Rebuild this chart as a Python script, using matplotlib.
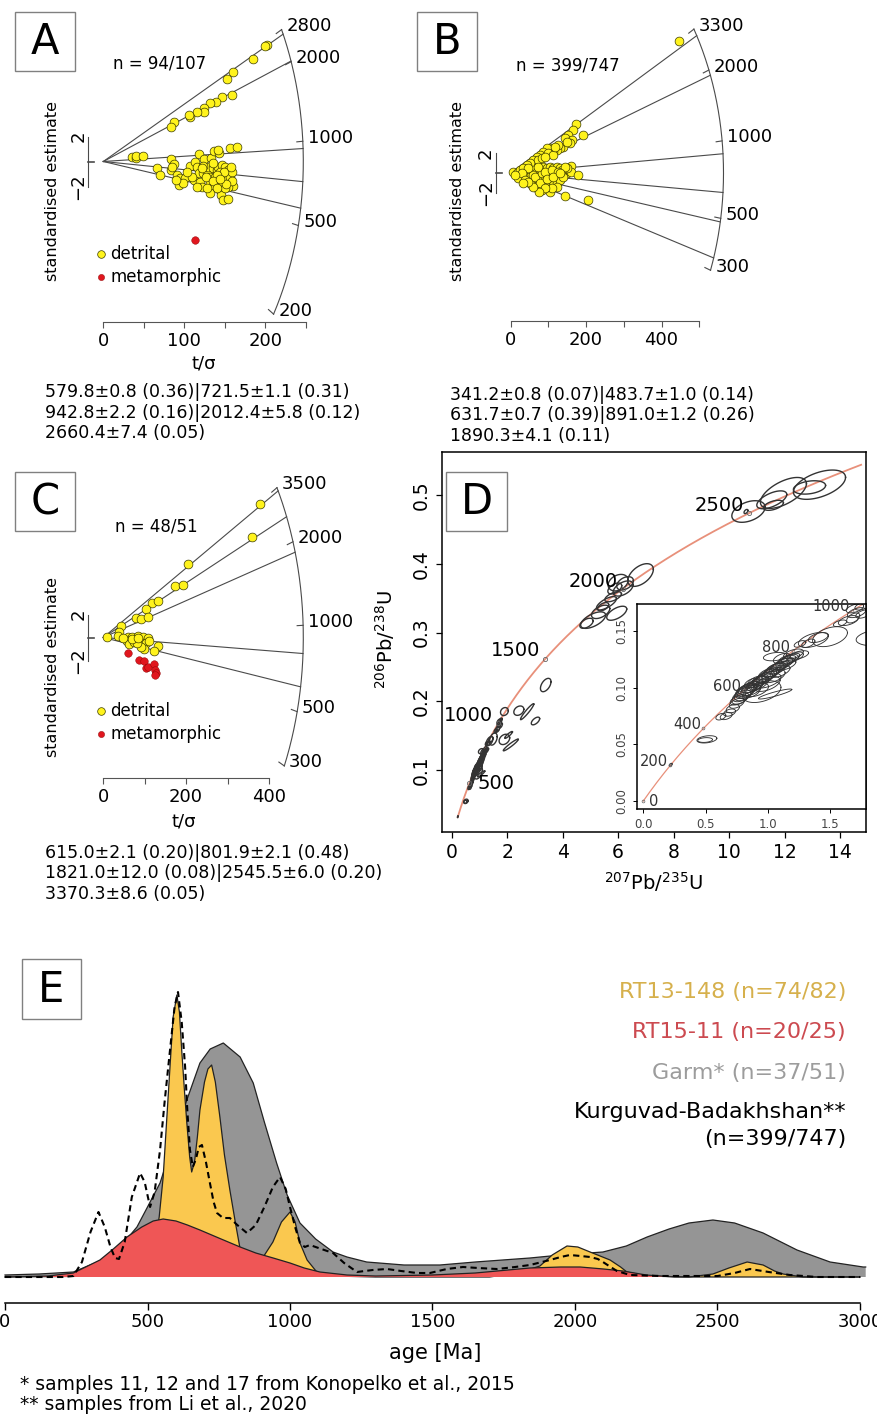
import numpy as np
import matplotlib.pyplot as plt
from matplotlib.patches import Rectangle

plt.rcParams['font.family'] = ['DejaVu Sans']
plt.rcParams['mathtext.fontset'] = 'dejavusans'

W, H = 877, 1419

# ---------------- radial plots: (t/sigma, standardised estimate) ----------------
A_DETRITAL = [(201.7, 9.32), (199.6, 9.24), (184.4, 8.20), (160.5, 7.13), (152.3, 6.57),
              (158.5, 5.29), (146.5, 5.19), (138.7, 4.76), (131.7, 4.65), (124.7, 4.25),
              (124.3, 3.93), (115.3, 3.99), (107.0, 3.59), (106.2, 3.69), (87.3, 3.16),
              (83.2, 2.76), (35.0, 0.33), (40.0, 0.25), (40.4, 0.44), (48.6, 0.44),
              (83.6, 0.17), (87.7, -0.20), (118.1, 0.60), (124.3, 0.17), (133.0, 0.28),
              (137.1, 0.84), (142.8, 0.71), (142.0, 0.92), (156.4, 1.08), (164.7, 1.16),
              (65.9, -0.49), (70.0, -1.11), (83.6, -0.68), (90.6, -1.08), (94.7, -1.35),
              (93.5, -1.88), (100.9, -1.32), (107.0, -0.33), (113.2, -0.01), (115.3, -0.41),
              (112.4, -1.48), (119.4, -1.61), (118.6, -0.95), (123.5, -0.95), (127.6, -0.81),
              (129.7, -0.41), (131.7, -1.21), (135.8, -0.55), (139.9, -0.68), (142.0, -0.41),
              (146.1, -0.28), (150.2, -0.41), (154.4, -0.68), (137.9, -1.21), (131.7, -1.75),
              (135.8, -2.01), (142.0, -1.61), (146.1, -1.88), (148.2, -1.21), (152.3, -1.48),
              (156.4, -1.21), (158.5, -0.81), (160.5, -1.95), (154.4, -2.01), (144.1, -2.28),
              (131.7, -2.55), (144.9, -2.68), (147.4, -3.08), (154.4, -3.00), (122.3, -2.01),
              (144.1, -0.81), (135.8, -0.15), (149.0, -0.81), (123.5, -0.36), (139.9, -1.08),
              (150.2, -2.15), (158.5, -1.56), (121.4, -0.55), (126.8, -1.21), (135.0, -1.53),
              (140.8, -2.15), (151.5, -1.80), (157.2, -0.41), (144.1, -1.43), (128.4, -2.15),
              (115.3, -2.01), (109.1, -1.21), (102.9, -0.81), (98.0, -1.69), (89.8, -1.48),
              (84.4, -0.41)]
A_META = [(113.2, -6.28)]
A_PEAKS = [579.8, 721.5, 942.8, 2012.4, 2660.4]
A_AGES = [200, 500, 1000, 2000, 2800]
A_N = 'n = 94/107'
A_LINES = ['579.8±0.8 (0.36)|721.5±1.1 (0.31)', '942.8±2.2 (0.16)|2012.4±5.8 (0.12)',
           '2660.4±7.4 (0.05)']

B_DETRITAL = [(447.3, 13.23),
              (173.5, 4.90), (166.5, 4.30), (191.2, 3.80), (153.2, 3.80), (144.4, 3.47),
              (162.0, 3.30), (157.6, 3.03), (140.0, 2.63), (131.1, 2.47), (122.3, 2.30),
              (113.5, 2.13), (104.6, 2.47), (95.8, 2.47), (87.0, 2.13), (78.1, 1.80),
              (69.3, 1.63), (100.2, 1.97), (113.5, 1.80), (60.5, 1.30), (73.7, 1.30),
              (51.7, 0.97), (42.8, 0.80), (82.6, 1.47), (91.4, 1.63), (126.7, 2.80),
              (148.8, 3.13), (117.9, 2.63),
              (7.5, 0.13), (16.3, -0.03), (25.2, 0.30), (34.0, 0.47), (42.8, 0.13),
              (51.7, -0.03), (60.5, 0.30), (69.3, 0.13), (78.1, 0.47), (87.0, 0.63),
              (95.8, 0.47), (104.6, 0.63), (113.5, 0.47), (122.3, 0.63), (131.1, 0.47),
              (140.0, 0.13), (148.8, -0.03), (135.5, -0.20), (126.7, -0.37), (117.9, -0.53),
              (109.1, -0.70), (100.2, -0.87), (91.4, -1.03), (82.6, -1.20), (73.7, -1.37),
              (69.3, -1.53), (82.6, -1.70), (104.6, -1.87), (95.8, -1.37), (113.5, -1.20),
              (122.3, -1.03), (131.1, -0.70), (140.0, -0.37), (160.3, 0.70), (159.4, 0.13),
              (177.9, -0.20), (144.4, -2.30), (206.2, -2.70), (60.5, -0.70), (51.7, -0.53),
              (42.8, -0.37), (34.0, -0.20), (25.2, -0.37), (20.8, -0.53), (64.9, -1.03),
              (56.1, -1.20), (78.1, -0.70), (87.0, -0.37), (104.6, -0.03), (113.5, -0.03),
              (95.8, -0.20), (69.3, -0.37), (60.5, -0.20), (47.2, 0.47), (29.6, 0.03),
              (11.9, -0.20), (38.4, -0.70), (51.7, -1.03), (64.9, -0.37), (82.6, -0.03),
              (100.2, -0.37), (122.3, -0.03), (135.5, 0.30), (148.8, 0.47), (73.7, 0.63),
              (91.4, 0.13), (109.1, 0.30), (126.7, 0.13), (144.4, 0.63), (78.1, -1.03),
              (95.8, -0.63), (113.5, -0.37), (131.1, -0.03), (122.3, -1.37), (109.1, -1.53),
              (91.4, -1.53), (76.4, -1.87), (60.5, -1.37), (47.2, -0.87), (34.0, -1.03)]
B_META = []
B_PEAKS = [341.2, 483.7, 631.7, 891.0, 1890.3, 3020.0]
B_AGES = [300, 500, 1000, 2000, 3300]
B_N = 'n = 399/747'
B_LINES = ['341.2±0.8 (0.07)|483.7±1.0 (0.14)', '631.7±0.7 (0.39)|891.0±1.2 (0.26)',
           '1890.3±4.1 (0.11)']

C_DETRITAL = [(378.5, 11.58), (358.4, 8.71), (203.8, 6.38), (173.2, 4.48), (193.3, 4.57),
              (116.8, 3.03), (131.3, 3.17), (102.3, 2.48), (78.2, 1.73), (90.3, 1.58),
              (108.8, 1.81), (42.8, 1.00), (37.9, 0.51), (34.7, 0.13), (9.7, 0.07),
              (58.9, 0.07), (70.1, 0.01), (83.0, 0.13), (96.7, 0.07), (108.8, -0.07),
              (56.4, -0.28), (62.1, -0.57), (75.0, -0.36), (88.6, -0.36), (102.3, -0.51),
              (110.4, -0.28), (133.0, -0.71), (123.3, -1.14), (99.1, -1.03), (91.0, -0.80),
              (80.5, -0.51), (68.5, -0.16), (84.6, -0.07), (48.4, -0.07)]
C_META = [(58.9, -1.32), (87.0, -1.96), (99.1, -2.01), (102.3, -2.68), (107.1, -2.54),
          (123.3, -2.33), (124.9, -2.83), (126.5, -3.12), (125.7, -3.26)]
C_PEAKS = [615.0, 801.9, 1821.0, 2545.5, 3370.3]
C_AGES = [300, 500, 1000, 2000, 3500]
C_N = 'n = 48/51'
C_LINES = ['615.0±2.1 (0.20)|801.9±2.1 (0.48)', '1821.0±12.0 (0.08)|2545.5±6.0 (0.20)',
           '3370.3±8.6 (0.05)']

# ---------------- concordia: 207Pb/235U, 206Pb/238U, half-extents, rho ----------------
ELLIPSES = [(0.511, 0.0544, 0.080, 0.0032, 0.3), (0.497, 0.0538, 0.059, 0.0021, 0.2),
            (0.220, 0.0320, 0.012, 0.0013, 0.5), (0.623, 0.0744, 0.040, 0.0029, 0.4),
            (0.666, 0.0750, 0.048, 0.0032, 0.4), (0.693, 0.0780, 0.048, 0.0032, 0.4),
            (0.719, 0.0815, 0.053, 0.0037, 0.4), (0.751, 0.0862, 0.060, 0.0044, 0.5),
            (0.778, 0.0906, 0.067, 0.0051, 0.5), (0.805, 0.0944, 0.074, 0.0059, 0.5),
            (0.832, 0.0980, 0.080, 0.0059, 0.5), (0.858, 0.1003, 0.067, 0.0051, 0.5),
            (0.845, 0.0965, 0.094, 0.0059, 0.4), (0.898, 0.1024, 0.067, 0.0051, 0.5),
            (0.952, 0.0965, 0.154, 0.0096, 0.4), (1.059, 0.0944, 0.134, 0.0044, 0.9),
            (0.960, 0.1074, 0.080, 0.0059, 0.6), (0.992, 0.1103, 0.080, 0.0059, 0.6),
            (1.024, 0.1127, 0.074, 0.0051, 0.6), (0.992, 0.1062, 0.114, 0.0066, 0.5),
            (1.051, 0.1156, 0.080, 0.0059, 0.6), (1.086, 0.1186, 0.074, 0.0044, 0.6),
            (1.120, 0.1209, 0.080, 0.0051, 0.6), (1.152, 0.1239, 0.074, 0.0044, 0.6),
            (1.184, 0.1259, 0.074, 0.0044, 0.6), (1.112, 0.1259, 0.067, 0.0044, 0.5),
            (1.059, 0.1274, 0.094, 0.0037, 0.3), (1.206, 0.1297, 0.080, 0.0044, 0.5),
            (0.912, 0.1053, 0.074, 0.0051, 0.5), (0.872, 0.1039, 0.060, 0.0044, 0.5),
            (0.765, 0.0891, 0.067, 0.0044, 0.5), (0.791, 0.0927, 0.074, 0.0051, 0.5),
            (0.818, 0.0965, 0.080, 0.0059, 0.5), (0.837, 0.0991, 0.074, 0.0051, 0.6),
            (0.864, 0.0980, 0.080, 0.0051, 0.5), (0.890, 0.1009, 0.074, 0.0051, 0.6),
            (0.925, 0.1039, 0.080, 0.0059, 0.5), (0.939, 0.1068, 0.067, 0.0044, 0.6),
            (0.979, 0.1092, 0.074, 0.0051, 0.6), (1.005, 0.1121, 0.080, 0.0051, 0.5),
            (1.032, 0.1142, 0.074, 0.0051, 0.6), (1.067, 0.1168, 0.080, 0.0051, 0.5),
            (1.099, 0.1192, 0.074, 0.0044, 0.6), (1.139, 0.1221, 0.074, 0.0044, 0.6),
            (1.166, 0.1250, 0.080, 0.0044, 0.5), (1.045, 0.1103, 0.094, 0.0059, 0.5),
            (0.992, 0.1033, 0.107, 0.0066, 0.5), (1.099, 0.1142, 0.080, 0.0051, 0.6),
            (1.152, 0.1200, 0.074, 0.0044, 0.6), (1.219, 0.1274, 0.067, 0.0041, 0.5),
            (1.254, 0.1289, 0.074, 0.0037, 0.5), (0.912, 0.0980, 0.094, 0.0059, 0.5),
            (1.366, 0.1421, 0.120, 0.0066, 0.5), (1.406, 0.1442, 0.080, 0.0044, 0.5),
            (1.500, 0.1450, 0.140, 0.0088, 0.4), (1.326, 0.1392, 0.053, 0.0037, 0.5),
            (1.647, 0.1592, 0.080, 0.0044, 0.5), (1.714, 0.1662, 0.074, 0.0044, 0.5),
            (1.767, 0.1650, 0.060, 0.0037, 0.5), (1.687, 0.1615, 0.053, 0.0044, 0.5),
            (1.580, 0.1568, 0.053, 0.0029, 0.5), (1.259, 0.1386, 0.047, 0.0029, 0.5),
            (1.700, 0.1700, 0.070, 0.0040, 0.5), (1.760, 0.1720, 0.060, 0.0035, 0.5),
            (1.900, 0.1445, 0.190, 0.0075, 0.3), (2.050, 0.1510, 0.140, 0.0050, 0.9),
            (2.130, 0.1364, 0.270, 0.0085, 0.95), (3.390, 0.2236, 0.190, 0.0097, 0.5),
            (2.420, 0.1863, 0.180, 0.0068, 0.3), (2.720, 0.1848, 0.240, 0.0116, 0.95),
            (3.020, 0.1713, 0.150, 0.0056, 0.6), (1.900, 0.1850, 0.140, 0.0058, 0.2),
            (6.810, 0.3836, 0.460, 0.0165, 0.5), (6.000, 0.3725, 0.360, 0.0120, 0.3),
            (6.180, 0.3640, 0.360, 0.0110, 0.5), (6.250, 0.3715, 0.300, 0.0097, 0.4),
            (5.820, 0.3520, 0.300, 0.0073, 0.6), (5.580, 0.3425, 0.360, 0.0097, 0.7),
            (5.950, 0.3280, 0.360, 0.0102, 0.6), (5.370, 0.3300, 0.330, 0.0097, 0.5),
            (5.100, 0.3180, 0.450, 0.0120, 0.6), (4.860, 0.3134, 0.240, 0.0073, 0.5),
            (5.460, 0.3375, 0.200, 0.0060, 0.5), (5.880, 0.3640, 0.250, 0.0080, 0.5),
            (13.26, 0.5150, 0.940, 0.0213, 0.5), (12.90, 0.5110, 0.580, 0.0097, 0.3),
            (11.96, 0.5030, 0.830, 0.0225, 0.6), (11.54, 0.4930, 0.540, 0.0130, 0.6),
            (10.70, 0.4760, 0.600, 0.0157, 0.4), (11.60, 0.4850, 0.360, 0.0073, 0.5),
            (10.61, 0.4760, 0.070, 0.0030, 0.5)]
MAIN_MARKS = [500, 1000, 1500, 2000, 2500]
INSET_MARKS = [0, 200, 400, 600, 800, 1000]

# ---------------- KDEs (age in Ma, relative density) ----------------
GARM_AGE = [0, 120, 240, 350, 410, 463, 500, 544, 590, 638, 684, 720, 766, 825, 871, 910,
            953, 990, 1035, 1090, 1151, 1200, 1269, 1400, 1526, 1650, 1842, 1950, 2098, 2180,
            2253, 2330, 2400, 2484, 2560, 2660, 2779, 2895, 3011, 3020]
GARM_D = [2, 3, 5, 18, 32, 50, 70, 94, 135, 177, 214, 228, 234, 220, 194, 155, 114, 82, 54,
          38, 25, 20, 15, 12, 12, 15, 19, 22, 25, 31, 40, 48, 54, 57, 54, 44, 27, 15, 10, 10]
RT13_AGE = [0, 400, 480, 520, 541, 555, 568, 580, 590, 603, 612, 620, 630, 638, 648, 655, 665,
            675, 684, 700, 712, 725, 738, 754, 770, 789, 808, 825, 850, 880, 906, 940, 970,
            1000, 1018, 1035, 1060, 1094, 1150, 1300, 1700, 1800, 1877, 1920, 1972, 2010, 2053,
            2123, 2160, 2182, 2250, 2400, 2484, 2540, 2604, 2660, 2700, 2730, 2800, 3000]
RT13_D = [0, 1, 8, 25, 60, 100, 160, 215, 260, 282, 265, 227, 185, 154, 120, 105, 115, 140,
          167, 195, 208, 212, 195, 160, 122, 87, 55, 28, 15, 12, 20, 35, 55, 65, 55, 34, 17, 5,
          1, 0, 0, 4, 11, 22, 31, 30, 25, 17, 10, 5, 1, 0, 3, 9, 15, 12, 6, 3, 0, 0]
RT15_AGE = [0, 150, 240, 333, 380, 428, 480, 520, 555, 600, 640, 684, 750, 825, 880, 941, 1000,
            1050, 1105, 1200, 1300, 1500, 1650, 1842, 1950, 2018, 2100, 2168, 2250, 2350, 3000]
RT15_D = [0, 1, 4, 17, 28, 40, 50, 56, 58, 56, 52, 47, 39, 30, 24, 19, 14, 9, 5, 2, 1, 2, 4, 9,
          10, 10, 8, 6, 2, 0, 0]
KB_AGE = [0, 200, 240, 270, 300, 328, 350, 370, 386, 400, 420, 445, 474, 490, 509, 525, 544, 560,
          579, 595, 607, 620, 632, 640, 649, 659, 670, 680, 691, 705, 719, 732, 744, 765, 789,
          815, 849, 880, 910, 940, 965, 985, 1000, 1018, 1035, 1052, 1070, 1110, 1151, 1190,
          1235, 1290, 1340, 1390, 1445, 1491, 1550, 1607, 1660, 1726, 1790, 1842, 1912, 1950,
          1982, 2020, 2053, 2080, 2098, 2125, 2147, 2193, 2300, 2500, 2560, 2614, 2680, 2754,
          2850, 3000]
KB_D = [0, 0, 1, 15, 45, 65, 50, 30, 19, 18, 35, 80, 104, 95, 70, 85, 127, 175, 227, 270, 285,
        255, 210, 165, 127, 110, 118, 130, 132, 115, 94, 75, 64, 59, 59, 52, 44, 52, 70, 90, 100,
        88, 70, 50, 34, 30, 32, 28, 24, 14, 5, 7, 8, 6, 4, 4, 8, 10, 9, 8, 10, 12, 17, 20, 22, 21,
        20, 18, 15, 10, 6, 2, 1, 1, 4, 8, 5, 2, 0, 0]
E_LEGEND = [('RT13-148 (n=74/82)', '#D6B04C'), ('RT15-11 (n=20/25)', '#CC4A50'),
            ('Garm* (n=37/51)', '#9C9C9C'), ('Kurguvad-Badakhshan**', 'black'),
            ('(n=399/747)', 'black')]

fig = plt.figure(figsize=(W / 100, H / 100), dpi=100)
fig.patch.set_facecolor('white')


def px_box(x0, y0, x1, y1):
    return [x0 / W, 1 - y1 / H, (x1 - x0) / W, (y1 - y0) / H]


def ftext(px, py, s, **kw):
    return fig.text(px / W, 1 - py / H, s, **kw)


def label_box(x0, y0, x1, y1, letter):
    fig.patches.append(Rectangle((x0 / W, 1 - y1 / H), (x1 - x0) / W, (y1 - y0) / H,
                                 transform=fig.transFigure, fc='white', ec='#808080',
                                 lw=1.0, zorder=5))
    ftext((x0 + x1) / 2, (y0 + y1) / 2 + 1, letter, ha='center', va='center',
          fontsize=30, zorder=6)


LINE_C = '#4a4a4a'


def radial_panel(geo, det, meta, peaks, ages, n_text, xticks, xlabels):
    x0, y0, x1, y1 = geo['box']
    ox, oy = geo['origin']
    sx, sz = geo['sx'], geo['sz']
    k, t0, a, b = geo['k'], geo['t0'], geo['a'], geo['b']
    ax = fig.add_axes(px_box(x0, y0, x1, y1))
    ax.patch.set_alpha(0)
    ax.set_xlim((x0 - ox) / sx, (x1 - ox) / sx)
    ax.set_ylim((oy - y1) / sz, (oy - y0) / sz)

    def rim(t, r=1.0):
        m = k * np.log(np.asarray(t, float) / t0)
        xp = r / np.sqrt(1 / a ** 2 + m ** 2 / b ** 2)
        return xp / sx, m * xp / sz

    arc = np.geomspace(ages[0], ages[-1], 300)
    ax.plot(*rim(arc), color=LINE_C, lw=0.8)
    for t in peaks:
        ex, ez = rim(t)
        ax.plot([0, ex], [0, ez], color=LINE_C, lw=0.8)
    for t in ages:
        ex, ez = rim(t)
        ix, iz = rim(t, 1 - 6 / a)
        ax.plot([ix, ex], [iz, ez], color=LINE_C, lw=0.8)
        ax.annotate(str(t), (ex, ez), xytext=(3.5, 2.5), textcoords='offset points',
                    ha='left', va='center', fontsize=13)
    if det:
        ax.scatter(*zip(*det), s=40, c='#FFF31C', edgecolors='#3c3c00', linewidths=0.5,
                   zorder=3)
    if meta:
        ax.scatter(*zip(*meta), s=30, c='#E0161E', edgecolors='#8a0000', linewidths=0.3,
                   zorder=3)
    # +-2 bracket
    xb = -15 / sx
    ax.plot([xb, xb], [-2, 2], color=LINE_C, lw=0.8)
    ax.plot([xb, xb + 6 / sx], [0, 0], color=LINE_C, lw=1.2)
    for v, s in [(2, '2'), (-2, '\u22122')]:
        ax.annotate(s, (xb, v), xytext=(-7, 0), textcoords='offset points', rotation=90,
                    ha='center', va='center', fontsize=13)
    # t/sigma axis
    for s in ['left', 'right', 'top']:
        ax.spines[s].set_visible(False)
    ax.spines['bottom'].set_position(('data', (oy - geo['axis_y']) / sz))
    ax.spines['bottom'].set_bounds(0, xticks[-1])
    ax.spines['bottom'].set_color('#555555')
    ax.set_xticks(xticks, xlabels)
    ax.tick_params(axis='x', length=4.5, color='#555555', labelsize=13, pad=2.5)
    ax.set_yticks([])
    ftext(geo['n_pos'][0], geo['n_pos'][1], n_text, ha='center', va='center', fontsize=12)
    ftext(geo['ylab_x'], geo['ylab_y'], 'standardised estimate', rotation=90,
          ha='center', va='center', fontsize=11.5)
    return ax


GEO_A = dict(box=(0, 0, 400, 450), origin=(103.3, 161.5), sx=0.81, sz=12.5, k=0.62, t0=849,
             a=200, b=291, axis_y=322, n_pos=(160, 64), ylab_x=53, ylab_y=191)
GEO_B = dict(box=(400, 0, 877, 450), origin=(510.5, 173), sx=0.3775, sz=10.0, k=0.53, t0=751,
             a=213, b=283, axis_y=321, n_pos=(568, 65), ylab_x=457, ylab_y=191)
GEO_C = dict(box=(0, 450, 400, 910), origin=(103.3, 637.5), sx=0.414, sz=11.5, k=0.64, t0=909,
             a=200, b=302, axis_y=778, n_pos=(156, 526), ylab_x=53, ylab_y=667)

radial_panel(GEO_A, A_DETRITAL, A_META, A_PEAKS, A_AGES, A_N,
             [0, 50, 100, 150, 200, 250], ['0', '', '100', '', '200', ''])
radial_panel(GEO_B, B_DETRITAL, B_META, B_PEAKS, B_AGES, B_N,
             [0, 100, 200, 300, 400, 500], ['0', '', '200', '', '400', ''])
radial_panel(GEO_C, C_DETRITAL, C_META, C_PEAKS, C_AGES, C_N,
             [0, 100, 200, 300, 400], ['0', '', '200', '', '400'])

ftext(204, 363, 't/\u03c3', ha='center', va='center', fontsize=13)
ftext(184, 822, 't/\u03c3', ha='center', va='center', fontsize=13)

for (lx, ly), lines in [((45, 392), A_LINES), ((450, 395), B_LINES), ((45, 853), C_LINES)]:
    for i, s in enumerate(lines):
        ftext(lx, ly + 20.5 * i, s, ha='left', va='center', fontsize=12.5)

# legends of A and C
for ly in (254, 711):
    fig.lines.append(plt.Line2D([101 / W], [1 - ly / H], marker='o', ms=5.5, mfc='#FFF31C',
                                mec='#3c3c00', mew=0.5, transform=fig.transFigure))
    ftext(110, ly, 'detrital', ha='left', va='center', fontsize=12)
    fig.lines.append(plt.Line2D([101 / W], [1 - (ly + 23) / H], marker='o', ms=4.5,
                                mfc='#E0161E', mec='#8a0000', mew=0.3,
                                transform=fig.transFigure))
    ftext(110, ly + 23, 'metamorphic', ha='left', va='center', fontsize=12)

# ---------------- D: concordia ----------------
L235, L238 = 9.8485e-4, 1.55125e-4


def concordia(t):
    t = np.asarray(t, float)
    return np.exp(L235 * t) - 1, np.exp(L238 * t) - 1


def draw_ellipses(ax, lw):
    th = np.linspace(0, 2 * np.pi, 80)
    for cx, cy, xh, yh, rho in ELLIPSES:
        ex = cx + xh * np.cos(th)
        ey = cy + yh * (rho * np.cos(th) + np.sqrt(1 - rho ** 2) * np.sin(th))
        ax.plot(ex, ey, color='#333333', lw=lw)


def axes_px(x0, y0, x1, y1, xa, xb, ya, yb):
    # calibration points (data value, pixel position) on each axis
    ax = fig.add_axes(px_box(x0, y0, x1, y1))
    kx = (xb[1] - xa[1]) / (xb[0] - xa[0])
    ky = (yb[1] - ya[1]) / (yb[0] - ya[0])
    ax.set_xlim(xa[0] + (x0 - xa[1]) / kx, xa[0] + (x1 - xa[1]) / kx)
    ax.set_ylim(ya[0] + (y1 - ya[1]) / ky, ya[0] + (y0 - ya[1]) / ky)
    return ax


axd = axes_px(442, 452, 866, 832, (0, 451.7), (14, 840), (0.1, 770), (0.5, 495))
tc = np.linspace(200, 2800, 400)
axd.plot(*concordia(tc), color='#E8907A', lw=1.3, zorder=1)
draw_ellipses(axd, 1.0)
mx, my = concordia(MAIN_MARKS)
axd.plot(mx, my, 'o', ms=3, mfc='none', mec='#666666', mew=0.6)
for t, x, y in zip(MAIN_MARKS, mx, my):
    if t == 500:
        axd.annotate(str(t), (x, y), xytext=(6, 0), textcoords='offset points',
                     ha='left', va='center', fontsize=14)
    else:
        axd.annotate(str(t), (x, y), xytext=(-3.5, 5.5), textcoords='offset points',
                     ha='right', va='center', fontsize=14)
axd.set_xticks(range(0, 15, 2))
axd.set_yticks([0.1, 0.2, 0.3, 0.4, 0.5], ['0.1', '0.2', '0.3', '0.4', '0.5'])
axd.tick_params(length=4.5, labelsize=13.5, width=0.9)
for lbl in axd.get_yticklabels():
    lbl.set_rotation(90)
    lbl.set_va('center')
for s in axd.spines.values():
    s.set_linewidth(1.1)
ftext(385, 640, r'$^{206}$Pb/$^{238}$U', rotation=90, ha='center', va='center', fontsize=14)
ftext(653, 882, r'$^{207}$Pb/$^{235}$U', ha='center', va='center', fontsize=14)

axi = axes_px(637, 604, 866, 809, (0, 643.3), (1.5, 830), (0, 801), (0.15, 631))
axi.plot(*concordia(np.linspace(0, 1150, 200)), color='#E8907A', lw=0.9, zorder=1)
draw_ellipses(axi, 0.65)
ix_, iy_ = concordia(INSET_MARKS)
axi.plot(ix_, iy_, 'o', ms=2, mfc='none', mec='#666666', mew=0.5)
for t, x, y in zip(INSET_MARKS, ix_, iy_):
    if t == 0:
        axi.annotate('0', (x, y), xytext=(4, 0), textcoords='offset points',
                     ha='left', va='center', fontsize=10.5, color='#333333')
    else:
        axi.annotate(str(t), (x, y), xytext=(-1.5, 3), textcoords='offset points',
                     ha='right', va='center', fontsize=10.5, color='#333333')
axi.set_xticks([0, 0.5, 1.0, 1.5], ['0.0', '0.5', '1.0', '1.5'])
axi.set_yticks([0, 0.05, 0.10, 0.15], ['0.00', '0.05', '0.10', '0.15'])
axi.tick_params(length=3, labelsize=8.5, labelcolor='#444444', width=0.7)
for lbl in axi.get_yticklabels():
    lbl.set_rotation(90)
    lbl.set_va('center')
for s in axi.spines.values():
    s.set_linewidth(1.1)

# ---------------- E: KDEs ----------------
axe = axes_px(0, 940, 877, 1303, (0, 5), (3000, 860), (0, 1277), (100, 1177))
axe.patch.set_alpha(0)
for age, dens, fc, z in [(GARM_AGE, GARM_D, '#959595', 1), (RT13_AGE, RT13_D, '#FAC84F', 2),
                         (RT15_AGE, RT15_D, '#EF5656', 3)]:
    axe.fill_between(age, 0, dens, fc=fc, ec='none', zorder=z)
    axe.plot(age, dens, color='#222222', lw=0.9, zorder=z)
axe.plot(KB_AGE, KB_D, color='black', lw=1.5, ls=(0, (3, 2)), zorder=4)
for s in ['left', 'right', 'top']:
    axe.spines[s].set_visible(False)
axe.spines['bottom'].set_bounds(0, 3000)
axe.spines['bottom'].set_linewidth(1.1)
axe.set_xticks(range(0, 3001, 500))
axe.tick_params(axis='x', length=5, width=1, labelsize=13, pad=2)
axe.set_yticks([])

for (s, c), ly in zip(E_LEGEND, [992, 1032, 1073, 1112, 1139]):
    ftext(846, ly, s, ha='right', va='center', fontsize=16, color=c)
ftext(435, 1353, 'age [Ma]', ha='center', va='center', fontsize=15)
ftext(20, 1384, '* samples 11, 12 and 17 from Konopelko et al., 2015', ha='left',
      va='center', fontsize=13.5)
ftext(20, 1404, '** samples from Li et al., 2020', ha='left', va='center', fontsize=13.5)

label_box(15, 12, 75, 71, 'A')
label_box(417, 12, 477, 71, 'B')
label_box(15, 472, 75, 531, 'C')
label_box(446, 472, 507, 531, 'D')
label_box(22, 959, 81, 1019, 'E')

fig.savefig('out.png', dpi=100, facecolor='white')
